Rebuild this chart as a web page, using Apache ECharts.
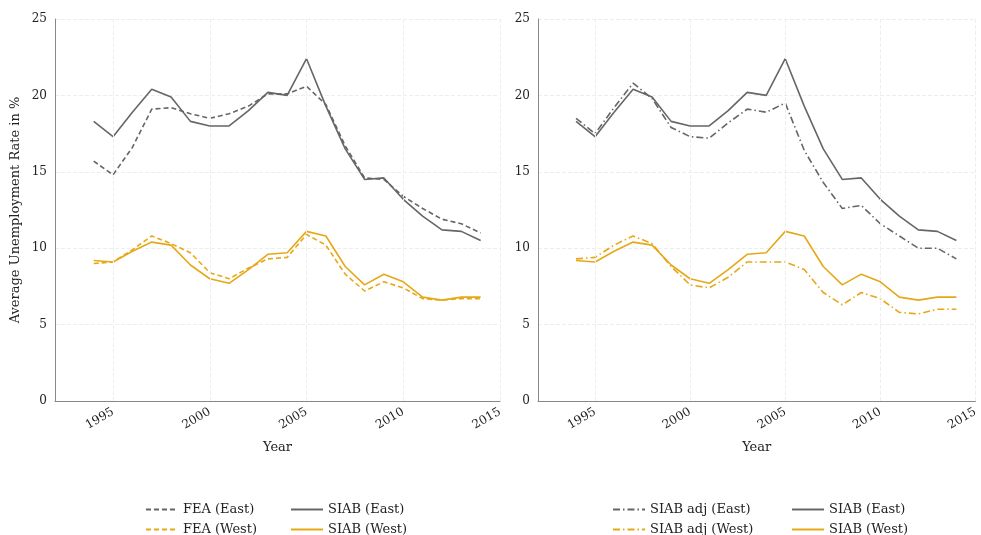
<!DOCTYPE html><html><head><meta charset="utf-8">
<script src="https://cdn.jsdelivr.net/npm/echarts@6/dist/echarts.min.js"></script>
<style>html,body{margin:0;padding:0;background:#fff}#c{width:981px;height:535px}</style></head><body><div id="c"></div>
<script>
const years=[1994,1995,1996,1997,1998,1999,2000,2001,2002,2003,2004,2005,2006,2007,2008,2009,2010,2011,2012,2013,2014];
const siabEast=[18.3,17.3,18.9,20.4,19.9,18.3,18.0,18.0,19.0,20.2,20.0,22.4,19.3,16.5,14.5,14.6,13.2,12.1,11.2,11.1,10.5];
const feaEast=[15.7,14.8,16.6,19.1,19.2,18.8,18.5,18.8,19.3,20.1,20.1,20.6,19.4,16.7,14.6,14.5,13.4,12.6,11.9,11.6,11.0];
const siabWest=[9.2,9.1,9.8,10.4,10.2,8.9,8.0,7.7,8.6,9.6,9.7,11.1,10.8,8.8,7.6,8.3,7.8,6.8,6.6,6.8,6.8];
const feaWest=[9.0,9.1,9.9,10.8,10.3,9.7,8.4,8.0,8.7,9.3,9.4,10.9,10.2,8.3,7.2,7.8,7.4,6.7,6.6,6.7,6.7];
const adjEast=[18.5,17.5,19.2,20.8,19.8,17.9,17.3,17.2,18.2,19.1,18.9,19.5,16.4,14.3,12.6,12.8,11.6,10.8,10.0,10.0,9.3];
const adjWest=[9.3,9.4,10.2,10.8,10.3,8.8,7.6,7.4,8.1,9.1,9.1,9.1,8.6,7.1,6.3,7.1,6.7,5.8,5.7,6.0,6.0];
const xTicks=[1995,2000,2005,2010,2015];
const GRAY='#666666',GOLD='#E6A817',FONT='DejaVu Serif';
const pairs=a=>years.map((y,i)=>[y,a[i]]);
const dashed=[5,3],dashdot=[7,3,1.5,3];
function xAx(i){return {type:'value',gridIndex:i,min:1992,max:2015,name:'Year',nameLocation:'middle',nameGap:40,
 nameTextStyle:{fontFamily:FONT,fontSize:13,color:'#222'},
 axisLine:{show:true,lineStyle:{color:'#888'}},axisTick:{show:false},
 axisLabel:{customValues:xTicks,formatter:v=>String(v),rotate:30,fontFamily:FONT,fontSize:12,color:'#222',margin:10},splitLine:{show:false}};}
function yAx(i){return {type:'value',gridIndex:i,min:0,max:25,interval:5,
 name:i===0?'Average Unemployment Rate in %':'',nameLocation:'middle',nameGap:33,nameTextStyle:{fontFamily:FONT,fontSize:13,color:'#222'},
 axisLine:{show:true,lineStyle:{color:'#888'}},axisTick:{show:false},
 axisLabel:{fontFamily:FONT,fontSize:12,color:'#222'},splitLine:{show:true,lineStyle:{color:'#eeeeee',type:'dashed'}}};}
function s(name,data,color,type,gi){return {name,type:'line',xAxisIndex:gi,yAxisIndex:gi,data:pairs(data),symbol:'none',
 lineStyle:{color,width:1.6,type},itemStyle:{color},animation:false};}
function vgrid(gi){return {type:'line',xAxisIndex:gi,yAxisIndex:gi,data:[],silent:true,
 markLine:{symbol:'none',silent:true,label:{show:false},lineStyle:{color:'#eeeeee',type:'dashed',width:1},data:xTicks.map(v=>({xAxis:v}))}};}
const lt={fontFamily:FONT,fontSize:13,color:'#222'};
function lg(left,top,name){return {show:true,left,top,itemGap:5,itemWidth:32,itemHeight:12,data:[name],textStyle:lt,selectedMode:false,itemStyle:{opacity:0}};}
const chart=echarts.init(document.getElementById('c'));
chart.setOption({animation:false,
 grid:[{left:55,right:481,top:19,bottom:134},{left:538,right:-6,top:19,bottom:134}],
 xAxis:[xAx(0),xAx(1)],yAxis:[yAx(0),yAx(1)],
 legend:[lg(140,498,'FEA (East)'),lg(140,518,'FEA (West)'),lg(285,498,'SIAB (East)'),lg(285,518,'SIAB (West)'),
   lg(607,498,'SIAB adj (East)'),lg(607,518,'SIAB adj (West)'),lg(786,498,'SIAB (East)'),lg(786,518,'SIAB (West)')],
 series:[vgrid(0),vgrid(1),
  s('FEA (East)',feaEast,GRAY,dashed,0),s('SIAB (East)',siabEast,GRAY,'solid',0),
  s('FEA (West)',feaWest,GOLD,dashed,0),s('SIAB (West)',siabWest,GOLD,'solid',0),
  s('SIAB adj (East)',adjEast,GRAY,dashdot,1),s('SIAB (East)',siabEast,GRAY,'solid',1),
  s('SIAB adj (West)',adjWest,GOLD,dashdot,1),s('SIAB (West)',siabWest,GOLD,'solid',1)]});
</script></body></html>
